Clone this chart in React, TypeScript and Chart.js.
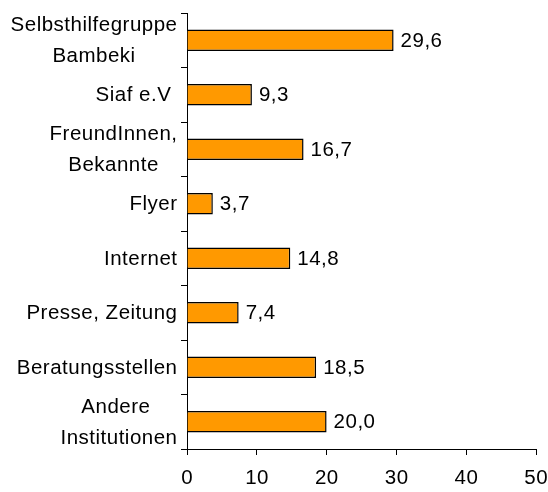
import React, { useEffect, useRef } from "react";
import { Chart, registerables } from "chart.js";

Chart.register(...registerables);

const categories: string[][] = [
  ["Selbsthilfegruppe", "Bambeki"],
  ["Siaf e.V "],
  ["FreundInnen,", "Bekannte"],
  ["Flyer"],
  ["Internet"],
  ["Presse, Zeitung"],
  ["Beratungsstellen"],
  ["Andere ", "Institutionen"],
];
const values: number[] = [29.6, 9.3, 16.7, 3.7, 14.8, 7.4, 18.5, 20.0];
const xTicks: number[] = [0, 10, 20, 30, 40, 50];

const FONT = '20.5px "Liberation Sans", Arial, sans-serif';
const TEXT = "#000000";

const labelPlugin = {
  id: "customLabels",
  afterDraw(chart: any) {
    const ctx: CanvasRenderingContext2D = chart.ctx;
    const xs = chart.scales.x;
    const ys = chart.scales.y;
    const area = chart.chartArea;
    ctx.save();
    ctx.font = FONT;
    (ctx as any).letterSpacing = "0.5px";
    ctx.fillStyle = TEXT;
    ctx.textBaseline = "middle";

    // y category labels
    const lineH = 31;
    categories.forEach((lines, i) => {
      const cy = ys.getPixelForValue(i);
      const right = area.left - 10;
      if (lines.length === 1) {
        ctx.textAlign = "right";
        ctx.fillText(lines[0], right + 0.5, cy + 1);
      } else {
        const maxW = Math.max(...lines.map((l) => ctx.measureText(l).width));
        const cx = right - maxW / 2 + 0.5;
        ctx.textAlign = "center";
        lines.forEach((l, j) => {
          const y = cy + (j - (lines.length - 1) / 2) * lineH + 1;
          ctx.fillText(l, cx, y);
        });
      }
    });

    // x tick labels
    ctx.textAlign = "center";
    xTicks.forEach((v) => {
      const x = xs.getPixelForValue(v);
      ctx.fillText(String(v), x + 0.25, area.bottom + 29);
    });

    // data labels
    ctx.textAlign = "left";
    const meta = chart.getDatasetMeta(0);
    meta.data.forEach((el: any, i: number) => {
      const txt = values[i].toFixed(1).replace(".", ",");
      ctx.fillText(txt, el.x + 7, el.y + 1);
    });
    ctx.restore();
  },
};

export default function App() {
  const ref = useRef<HTMLCanvasElement | null>(null);
  useEffect(() => {
    document.body.style.margin = "0";
    if (!ref.current) return;
    const chart = new Chart(ref.current, {
      type: "bar",
      data: {
        labels: categories.map((c) => c.join(" ")),
        datasets: [
          {
            data: values,
            backgroundColor: "#FF9900",
            borderColor: "#000000",
            borderWidth: 1.5,
            barPercentage: 0.39,
            categoryPercentage: 1,
          },
        ],
      },
      options: {
        indexAxis: "y",
        responsive: false,
        animation: false,
        layout: { padding: { left: 0, right: 12, top: 13, bottom: 0 } },
        plugins: {
          legend: { display: false },
          tooltip: { enabled: false },
        },
        scales: {
          x: {
            min: 0,
            max: 50,
            ticks: { display: false, stepSize: 10 },
            grid: {
              drawOnChartArea: false,
              drawTicks: true,
              tickLength: 6,
              color: "#000000",
            },
            border: { display: true, color: "#000000", width: 1 },
            afterFit: (s: any) => {
              s.height = 43;
            },
          },
          y: {
            ticks: { display: false },
            grid: {
              offset: true,
              drawOnChartArea: false,
              drawTicks: true,
              tickLength: 6,
              color: "#000000",
            },
            border: { display: true, color: "#000000", width: 1 },
            afterFit: (s: any) => {
              s.width = 187;
            },
          },
        },
      },
      plugins: [labelPlugin],
    });
    return () => chart.destroy();
  }, []);
  return (
    <div style={{ width: 548, height: 492 }}>
      <canvas ref={ref} width={548} height={492} />
    </div>
  );
}
